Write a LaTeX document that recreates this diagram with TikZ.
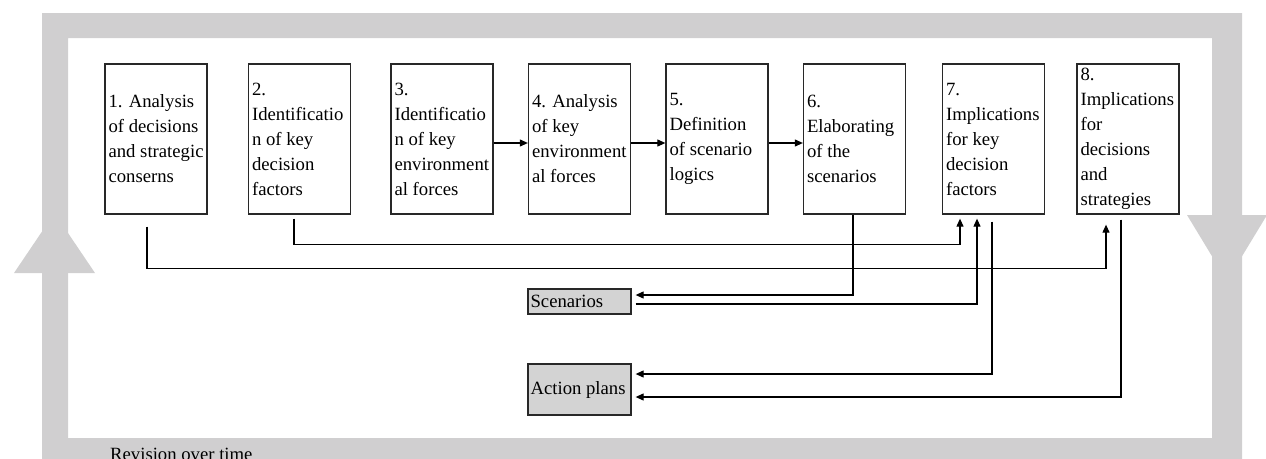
\documentclass[tikz,border=0pt]{standalone}
\usepackage{fontspec}
\setmainfont{Liberation Serif}
\usetikzlibrary{arrows.meta}
\definecolor{framegray}{RGB}{208,207,208}
\definecolor{outgray}{RGB}{211,211,211}
\definecolor{edge}{RGB}{40,40,40}
\begin{document}
\begin{tikzpicture}[x=1pt,y=-1pt,
  every node/.style={font=\fontsize{18.7}{25}\selectfont},
  stepbox/.style={draw=edge,line width=1.3pt,minimum width=102pt,minimum height=150pt,inner sep=0pt},
  outbox/.style={draw=edge,fill=outgray,line width=1.3pt,minimum width=103pt,inner sep=0pt},
  boxtext/.style={anchor=west,align=left,inner sep=0pt},
  link/.style={line width=1.1pt,-{Triangle[length=8pt,width=7pt]}},
  plain/.style={line width=1.1pt}]
\useasboundingbox (0,0) rectangle (1266,458);
\clip (0,0) rectangle (1266,458);
% revision loop: grey band with its two arrowheads
\fill[framegray,even odd rule] (42,13) rectangle (1242,490) (68,38) rectangle (1212,438);
\fill[framegray] (14,273) -- (95,273) -- (54.5,213) -- cycle;
\fill[framegray] (1187,215) -- (1267,215) -- (1227,281) -- cycle;
\node[anchor=base west,inner sep=0pt] (rev) at (110,460) {Revision over time};
% the eight steps
\node[stepbox] (b1) at (156,139) {};
\node[stepbox] (b2) at (299.5,139) {};
\node[stepbox] (b3) at (442,139) {};
\node[stepbox] (b4) at (579.5,139) {};
\node[stepbox] (b5) at (717,139) {};
\node[stepbox] (b6) at (854.5,139) {};
\node[stepbox] (b7) at (993.5,139) {};
\node[stepbox] (b8) at (1128,139) {};
\node[boxtext] (t1) at ([xshift=4pt]b1.west) {1. Analysis\\of decisions\\and strategic\\conserns};
\node[boxtext] (t2) at ([xshift=4pt]b2.west) {2.\\Identificatio\\n of key\\decision\\factors};
\node[boxtext] (t3) at ([xshift=4pt]b3.west) {3.\\Identificatio\\n of key\\environment\\al forces};
\node[boxtext] (t4) at ([xshift=4pt]b4.west) {4. Analysis\\of key\\environment\\al forces};
\node[boxtext] (t5) at ([xshift=4pt]b5.west) {5.\\Definition\\of scenario\\logics};
\node[boxtext] (t6) at ([xshift=4pt]b6.west) {6.\\Elaborating\\of the\\scenarios};
\node[boxtext] (t7) at ([xshift=4pt]b7.west) {7.\\Implications\\for key\\decision\\factors};
\node[boxtext] (t8) at ([xshift=4pt]b8.west) {8.\\Implications\\for\\decisions\\and\\strategies};
% outputs
\node[outbox,minimum height=25pt] (sc) at (579.5,301.5) {};
\node[outbox,minimum height=51pt] (ap) at (579.5,389.5) {};
\node[boxtext] (tsc) at ([xshift=3pt]sc.west) {Scenarios};
\node[boxtext] (tap) at ([xshift=3pt]ap.west) {Action plans};
% flow between the steps (shifts are in page directions: negative yshift = lower)
\draw[link] ([yshift=-4pt]b3.east) -- ([yshift=-4pt]b4.west);
\draw[link] ([yshift=-4pt]b4.east) -- ([yshift=-4pt]b5.west);
\draw[link] ([yshift=-4pt]b5.east) -- ([yshift=-4pt]b6.west);
\draw[link] ([xshift=-9pt,yshift=-12pt]b1.south) |- ++(0,42) -| ([xshift=-22pt,yshift=-10pt]b8.south);
\draw[link] ([xshift=-5.5pt,yshift=-4pt]b2.south) |- ++(0,26) -| ([xshift=-33.5pt,yshift=-4pt]b7.south);
\draw[link] ([xshift=-1.5pt]b6.south) |- ([xshift=4pt,yshift=6.5pt]sc.east);
\draw[link] ([xshift=4pt,yshift=-2.5pt]sc.east) -| ([xshift=-16.5pt,yshift=-4pt]b7.south);
\draw[link] ([xshift=-1.5pt,yshift=-7pt]b7.south) |- ([xshift=4pt,yshift=15.5pt]ap.east);
\draw[link] ([xshift=-7pt,yshift=-5pt]b8.south) |- ([xshift=4pt,yshift=-7.5pt]ap.east);
\end{tikzpicture}
\end{document}
